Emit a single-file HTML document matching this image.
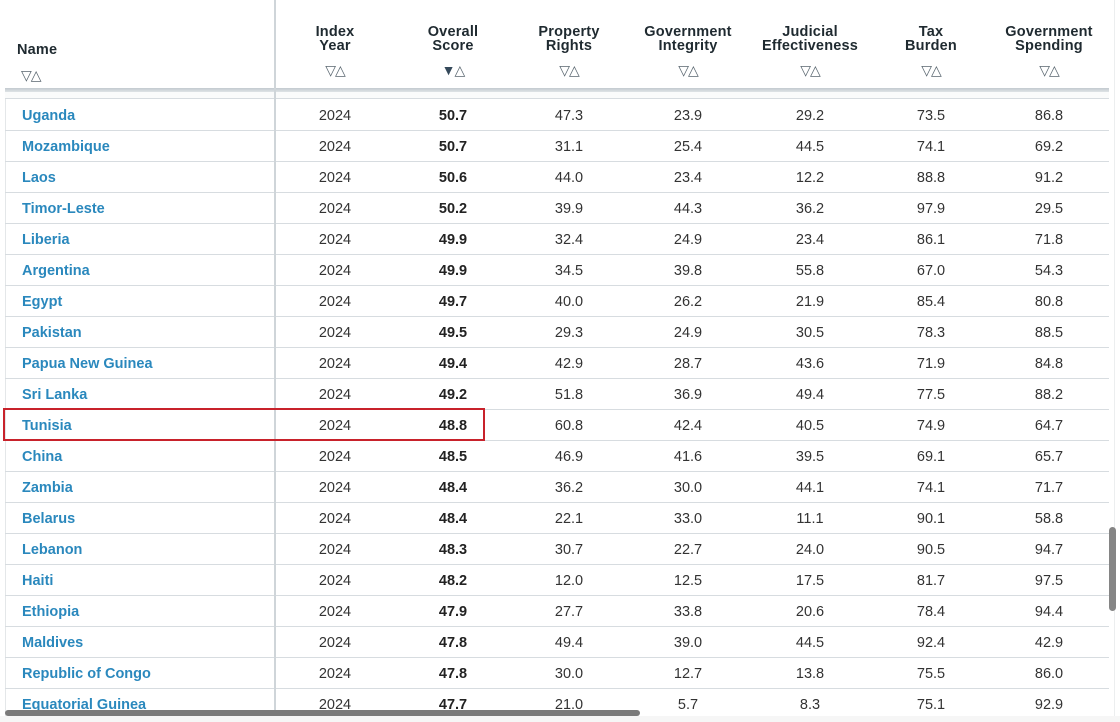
<!DOCTYPE html>
<html><head><meta charset="utf-8">
<style>
html,body{margin:0;padding:0;}
body{width:1120px;height:722px;overflow:hidden;background:#fff;position:relative;font-family:"Liberation Sans",sans-serif;}
.abs{position:absolute;}
.hd{position:absolute;top:0;left:5px;width:1104px;height:88px;background:#fff;}
.ht{position:absolute;width:140px;text-align:center;font-weight:bold;font-size:14.5px;line-height:14px;color:#1f2a30;top:25px;letter-spacing:0.2px;}
.ar{position:absolute;width:60px;text-align:center;font-size:14px;color:#5a6770;top:62px;line-height:16px;letter-spacing:-1px;}
.row{position:absolute;left:5px;width:1104px;height:31px;border-bottom:1px solid #d7dce0;}
.c{position:absolute;top:2px;width:100px;text-align:center;font-size:14.5px;line-height:31px;color:#333;}
.n{position:absolute;top:2px;left:17px;font-size:14.5px;line-height:31px;color:#2a88bd;font-weight:bold;white-space:nowrap;}
.b{font-weight:bold;color:#222;}
</style></head><body>
<div class="abs" style="left:5px;top:0;width:1px;height:716px;background:#e4e7e9;"></div>
<div class="abs" style="left:1114px;top:0;width:1px;height:716px;background:#eceeef;"></div>

<div class="abs" style="left:5px;top:92px;width:1104px;height:7px;background:#fafbfb;"></div>

<div class="row" style="top:99px;"><span class="n">Uganda</span><span class="c" style="left:280px">2024</span><span class="c b" style="left:398px">50.7</span><span class="c" style="left:514px">47.3</span><span class="c" style="left:633px">23.9</span><span class="c" style="left:755px">29.2</span><span class="c" style="left:876px">73.5</span><span class="c" style="left:994px">86.8</span></div>
<div class="row" style="top:130px;"><span class="n">Mozambique</span><span class="c" style="left:280px">2024</span><span class="c b" style="left:398px">50.7</span><span class="c" style="left:514px">31.1</span><span class="c" style="left:633px">25.4</span><span class="c" style="left:755px">44.5</span><span class="c" style="left:876px">74.1</span><span class="c" style="left:994px">69.2</span></div>
<div class="row" style="top:161px;"><span class="n">Laos</span><span class="c" style="left:280px">2024</span><span class="c b" style="left:398px">50.6</span><span class="c" style="left:514px">44.0</span><span class="c" style="left:633px">23.4</span><span class="c" style="left:755px">12.2</span><span class="c" style="left:876px">88.8</span><span class="c" style="left:994px">91.2</span></div>
<div class="row" style="top:192px;"><span class="n">Timor-Leste</span><span class="c" style="left:280px">2024</span><span class="c b" style="left:398px">50.2</span><span class="c" style="left:514px">39.9</span><span class="c" style="left:633px">44.3</span><span class="c" style="left:755px">36.2</span><span class="c" style="left:876px">97.9</span><span class="c" style="left:994px">29.5</span></div>
<div class="row" style="top:223px;"><span class="n">Liberia</span><span class="c" style="left:280px">2024</span><span class="c b" style="left:398px">49.9</span><span class="c" style="left:514px">32.4</span><span class="c" style="left:633px">24.9</span><span class="c" style="left:755px">23.4</span><span class="c" style="left:876px">86.1</span><span class="c" style="left:994px">71.8</span></div>
<div class="row" style="top:254px;"><span class="n">Argentina</span><span class="c" style="left:280px">2024</span><span class="c b" style="left:398px">49.9</span><span class="c" style="left:514px">34.5</span><span class="c" style="left:633px">39.8</span><span class="c" style="left:755px">55.8</span><span class="c" style="left:876px">67.0</span><span class="c" style="left:994px">54.3</span></div>
<div class="row" style="top:285px;"><span class="n">Egypt</span><span class="c" style="left:280px">2024</span><span class="c b" style="left:398px">49.7</span><span class="c" style="left:514px">40.0</span><span class="c" style="left:633px">26.2</span><span class="c" style="left:755px">21.9</span><span class="c" style="left:876px">85.4</span><span class="c" style="left:994px">80.8</span></div>
<div class="row" style="top:316px;"><span class="n">Pakistan</span><span class="c" style="left:280px">2024</span><span class="c b" style="left:398px">49.5</span><span class="c" style="left:514px">29.3</span><span class="c" style="left:633px">24.9</span><span class="c" style="left:755px">30.5</span><span class="c" style="left:876px">78.3</span><span class="c" style="left:994px">88.5</span></div>
<div class="row" style="top:347px;"><span class="n">Papua New Guinea</span><span class="c" style="left:280px">2024</span><span class="c b" style="left:398px">49.4</span><span class="c" style="left:514px">42.9</span><span class="c" style="left:633px">28.7</span><span class="c" style="left:755px">43.6</span><span class="c" style="left:876px">71.9</span><span class="c" style="left:994px">84.8</span></div>
<div class="row" style="top:378px;"><span class="n">Sri Lanka</span><span class="c" style="left:280px">2024</span><span class="c b" style="left:398px">49.2</span><span class="c" style="left:514px">51.8</span><span class="c" style="left:633px">36.9</span><span class="c" style="left:755px">49.4</span><span class="c" style="left:876px">77.5</span><span class="c" style="left:994px">88.2</span></div>
<div class="row" style="top:409px;"><span class="n">Tunisia</span><span class="c" style="left:280px">2024</span><span class="c b" style="left:398px">48.8</span><span class="c" style="left:514px">60.8</span><span class="c" style="left:633px">42.4</span><span class="c" style="left:755px">40.5</span><span class="c" style="left:876px">74.9</span><span class="c" style="left:994px">64.7</span></div>
<div class="row" style="top:440px;"><span class="n">China</span><span class="c" style="left:280px">2024</span><span class="c b" style="left:398px">48.5</span><span class="c" style="left:514px">46.9</span><span class="c" style="left:633px">41.6</span><span class="c" style="left:755px">39.5</span><span class="c" style="left:876px">69.1</span><span class="c" style="left:994px">65.7</span></div>
<div class="row" style="top:471px;"><span class="n">Zambia</span><span class="c" style="left:280px">2024</span><span class="c b" style="left:398px">48.4</span><span class="c" style="left:514px">36.2</span><span class="c" style="left:633px">30.0</span><span class="c" style="left:755px">44.1</span><span class="c" style="left:876px">74.1</span><span class="c" style="left:994px">71.7</span></div>
<div class="row" style="top:502px;"><span class="n">Belarus</span><span class="c" style="left:280px">2024</span><span class="c b" style="left:398px">48.4</span><span class="c" style="left:514px">22.1</span><span class="c" style="left:633px">33.0</span><span class="c" style="left:755px">11.1</span><span class="c" style="left:876px">90.1</span><span class="c" style="left:994px">58.8</span></div>
<div class="row" style="top:533px;"><span class="n">Lebanon</span><span class="c" style="left:280px">2024</span><span class="c b" style="left:398px">48.3</span><span class="c" style="left:514px">30.7</span><span class="c" style="left:633px">22.7</span><span class="c" style="left:755px">24.0</span><span class="c" style="left:876px">90.5</span><span class="c" style="left:994px">94.7</span></div>
<div class="row" style="top:564px;"><span class="n">Haiti</span><span class="c" style="left:280px">2024</span><span class="c b" style="left:398px">48.2</span><span class="c" style="left:514px">12.0</span><span class="c" style="left:633px">12.5</span><span class="c" style="left:755px">17.5</span><span class="c" style="left:876px">81.7</span><span class="c" style="left:994px">97.5</span></div>
<div class="row" style="top:595px;"><span class="n">Ethiopia</span><span class="c" style="left:280px">2024</span><span class="c b" style="left:398px">47.9</span><span class="c" style="left:514px">27.7</span><span class="c" style="left:633px">33.8</span><span class="c" style="left:755px">20.6</span><span class="c" style="left:876px">78.4</span><span class="c" style="left:994px">94.4</span></div>
<div class="row" style="top:626px;"><span class="n">Maldives</span><span class="c" style="left:280px">2024</span><span class="c b" style="left:398px">47.8</span><span class="c" style="left:514px">49.4</span><span class="c" style="left:633px">39.0</span><span class="c" style="left:755px">44.5</span><span class="c" style="left:876px">92.4</span><span class="c" style="left:994px">42.9</span></div>
<div class="row" style="top:657px;"><span class="n">Republic of Congo</span><span class="c" style="left:280px">2024</span><span class="c b" style="left:398px">47.8</span><span class="c" style="left:514px">30.0</span><span class="c" style="left:633px">12.7</span><span class="c" style="left:755px">13.8</span><span class="c" style="left:876px">75.5</span><span class="c" style="left:994px">86.0</span></div>
<div class="row" style="top:688px;border-bottom:none;height:28px;overflow:hidden;"><span class="n">Equatorial Guinea</span><span class="c" style="left:280px">2024</span><span class="c b" style="left:398px">47.7</span><span class="c" style="left:514px">21.0</span><span class="c" style="left:633px">5.7</span><span class="c" style="left:755px">8.3</span><span class="c" style="left:876px">75.1</span><span class="c" style="left:994px">92.9</span></div>

<div class="abs" style="left:5px;top:98px;width:1104px;height:1px;background:#d7dce0;"></div>

<!-- header -->
<div class="hd"></div>
<div class="abs" style="left:5px;top:88px;width:1104px;height:4px;background:linear-gradient(#c3cacf,#dfe3e6);"></div>
<div class="ht" style="left:17px;top:43px;width:auto;text-align:left;">Name</div>
<div class="ar" style="left:21px;top:67px;width:auto;text-align:left;">▽△</div>

<div class="ht" style="left:265px;">Index<br>Year</div>
<div class="ar" style="left:305px;">▽△</div>
<div class="ht" style="left:383px;">Overall<br>Score</div>
<div class="ar" style="left:423px;"><span style="color:#34495a">▼</span>△</div>
<div class="ht" style="left:499px;">Property<br>Rights</div>
<div class="ar" style="left:539px;">▽△</div>
<div class="ht" style="left:618px;">Government<br>Integrity</div>
<div class="ar" style="left:658px;">▽△</div>
<div class="ht" style="left:740px;width:140px;">Judicial<br>Effectiveness</div>
<div class="ar" style="left:780px;">▽△</div>
<div class="ht" style="left:861px;">Tax<br>Burden</div>
<div class="ar" style="left:901px;">▽△</div>
<div class="ht" style="left:979px;">Government<br>Spending</div>
<div class="ar" style="left:1019px;">▽△</div>

<div class="abs" style="left:274px;top:0;width:2px;height:716px;background:#cfd5d9;"></div>

<div class="abs" style="left:3px;top:408px;width:478px;height:29px;border:2px solid #c8222b;"></div>

<div class="abs" style="left:5px;top:710px;width:635px;height:6px;border-radius:3px;background:#7a7a7a;"></div>
<div class="abs" style="left:0;top:716px;width:1120px;height:6px;background:#f6f6f6;"></div>
<div class="abs" style="left:1109px;top:527px;width:7px;height:84px;border-radius:4px;background:#858585;"></div>
</body></html>
